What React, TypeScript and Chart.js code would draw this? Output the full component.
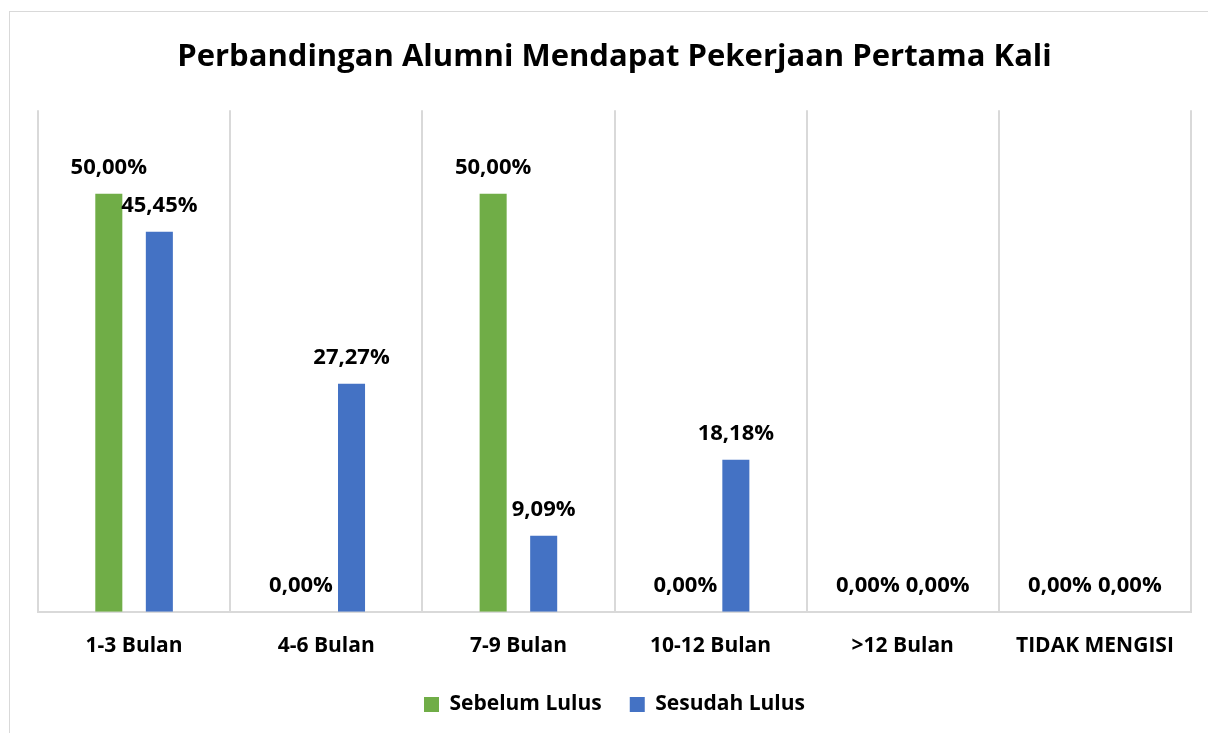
import React, { useEffect, useRef } from "react";
import { Chart, registerables } from "chart.js";

Chart.register(...registerables);

const categories = ["1-3 Bulan", "4-6 Bulan", "7-9 Bulan", "10-12 Bulan", ">12 Bulan", "TIDAK MENGISI"];
const sebelumLulus = [50.0, 0.0, 50.0, 0.0, 0.0, 0.0];
const sesudahLulus = [45.45, 27.27, 9.09, 18.18, 0.0, 0.0];
const seriesNames = ["Sebelum Lulus", "Sesudah Lulus"];
const titleText = "Perbandingan Alumni Mendapat Pekerjaan Pertama Kali";

const FONT = "'Open Sans', Lato, sans-serif";

const labelPlugin = {
  id: "valueLabels",
  afterDatasetsDraw(chart: any) {
    const ctx = chart.ctx;
    ctx.save();
    ctx.font = `bold 22px ${FONT}`;
    ctx.fillStyle = "#000";
    ctx.textAlign = "center";
    ctx.textBaseline = "middle";
    const n = chart.data.labels.length;
    const metas = chart.data.datasets.map((_: any, di: number) => chart.getDatasetMeta(di));
    for (let i = 0; i < n; i++) {
      const items = chart.data.datasets.map((ds: any, di: number) => {
        const v = ds.data[i] as number;
        const txt = v.toFixed(2).replace(".", ",") + "%";
        const el = metas[di].data[i];
        return { txt, x: el.x, y: el.y - 26, w: ctx.measureText(txt).width };
      });
      if (items.length === 2 && Math.abs(items[0].y - items[1].y) < 24) {
        const overlap = items[0].x + items[0].w / 2 + 6 - (items[1].x - items[1].w / 2);
        if (overlap > 0) {
          items[0].x -= overlap / 2;
          items[1].x += overlap / 2;
        }
      }
      items.forEach((it: any) => ctx.fillText(it.txt, it.x, it.y));
    }
    ctx.restore();
  },
};

export default function App() {
  const ref = useRef<HTMLCanvasElement>(null);
  useEffect(() => {
    if (!ref.current) return;
    const chart = new Chart(ref.current, {
      type: "bar",
      data: {
        labels: categories,
        datasets: [
          { label: seriesNames[0], data: sebelumLulus, backgroundColor: "#70ad47" },
          { label: seriesNames[1], data: sesudahLulus, backgroundColor: "#4472c4" },
        ],
      },
      options: {
        responsive: false,
        animation: false,
        layout: { padding: { left: 28, right: 17, top: 0, bottom: 8 } },
        datasets: {
          bar: { categoryPercentage: 0.526, barPercentage: 0.535 },
        },
        plugins: {
          title: {
            display: true,
            text: titleText,
            color: "#000",
            font: { family: FONT, size: 31, weight: "bold" },
            padding: { top: 27, bottom: 34 },
          },
          legend: {
            position: "bottom",
            labels: {
              color: "#000",
              font: { family: FONT, size: 21, weight: "bold" },
              boxWidth: 15,
              boxHeight: 15,
              padding: 28,
            },
          },
          tooltip: { enabled: false },
        },
        scales: {
          x: {
            grid: { display: true, offset: true, color: "#d9d9d9", lineWidth: 2, drawTicks: false },
            border: { display: true, color: "#d9d9d9", width: 2 },
            ticks: { color: "#000", font: { family: FONT, size: 21, weight: "bold" }, padding: 22, maxRotation: 0 },
            afterFit: (scale: any) => {
              scale.height -= 15;
            },
          },
          y: {
            display: false,
            min: 0,
            max: 60,
          },
        },
      },
      plugins: [labelPlugin],
    });
    return () => chart.destroy();
  }, []);
  return (
    <div
      style={{
        position: "absolute",
        left: 9,
        top: 11,
        width: 1198,
        height: 721,
        borderTop: "1px solid #d9d9d9",
        borderLeft: "1px solid #d9d9d9",
        background: "#fff",
      }}
    >
      <canvas ref={ref} width={1198} height={721} style={{ display: "block" }} />
    </div>
  );
}
